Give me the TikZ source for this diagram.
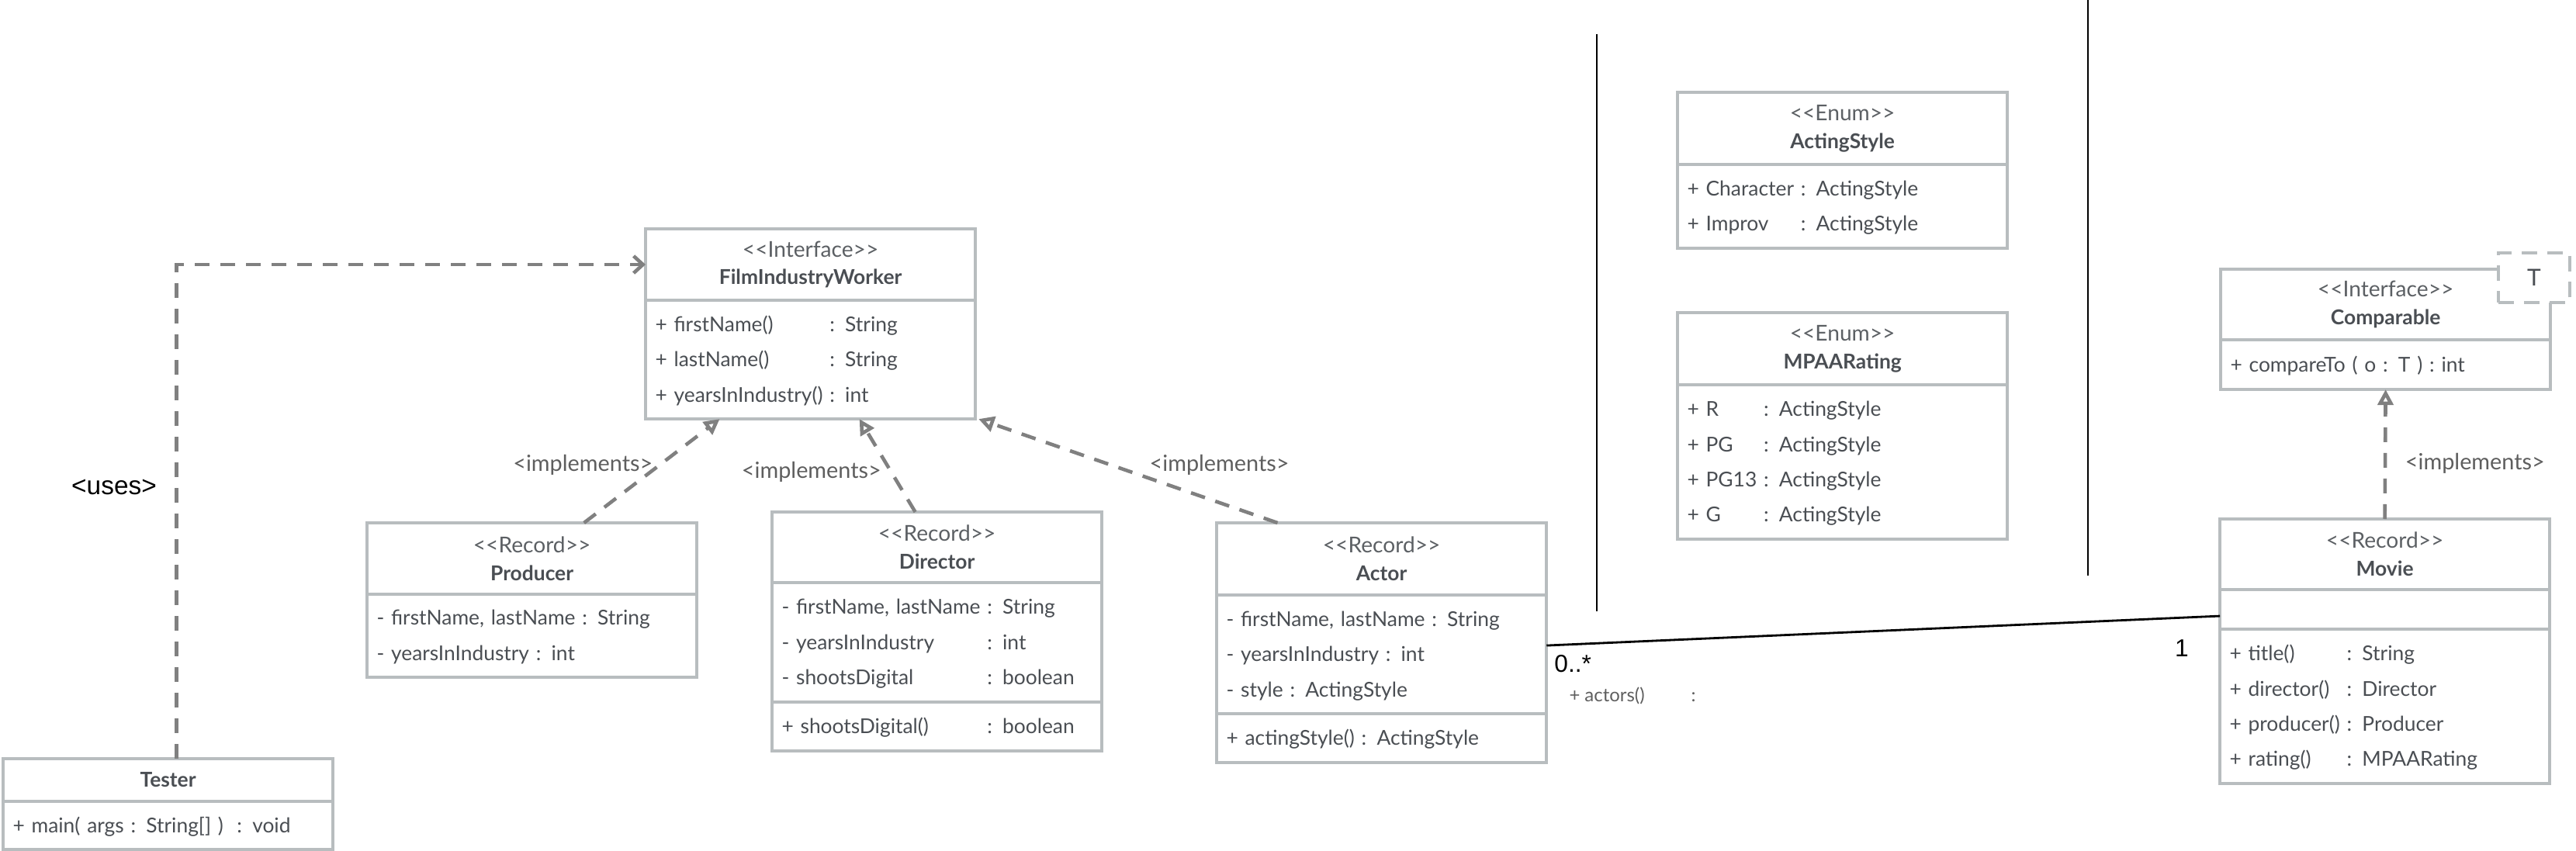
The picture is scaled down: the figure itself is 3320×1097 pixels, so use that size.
\documentclass[tikz,border=0pt]{standalone}
\usepackage{fontspec}
\newfontfamily\umlfont{Lato}
\newfontfamily\arialfont{Liberation Sans}
\usetikzlibrary{arrows.meta,positioning}
\definecolor{boxgray}{HTML}{B8BDBF}
\definecolor{textgray}{HTML}{4A4E53}
\definecolor{linkgray}{HTML}{808080}
\definecolor{notegray}{HTML}{5E5E5E}
\newcommand{\stereo}[1]{{\fontsize{8}{10.2}\selectfont\color{textgray!90}<<#1>>}\\}
\newcommand{\headfont}{\umlfont\fontsize{7.5}{10.2}\selectfont}
\newcommand{\rowfont}{\umlfont\fontsize{7.5}{12.9}\selectfont}
\tikzset{
  part/.style={draw=boxgray, line width=1.1pt, fill=white, outer sep=0pt,
    text width=4.0cm, inner xsep=0.125cm, inner ysep=0pt, text=textgray},
  headpart/.style={part, align=center, font=\headfont},
  rowpart/.style={part, align=left, font=\rowfont},
  realizes/.style={draw=linkgray, line width=1.3pt, dash pattern=on 0.19cm off 0.14cm,
    -{Triangle[open, length=0.2cm, width=0.2cm]}},
  uses/.style={draw=linkgray, line width=1.3pt, dash pattern=on 0.19cm off 0.14cm,
    -{Straight Barb[length=0.12cm, width=0.22cm]}},
  implabel/.style={font=\umlfont\fontsize{8.2}{9}\selectfont, text=notegray, inner sep=1pt},
  mult/.style={font=\arialfont\fontsize{9}{10}\selectfont, inner sep=1pt},
  rule/.style={draw=black, line width=0.8pt},
}
\begin{document}
\begin{tikzpicture}[x=0.01cm, y=-0.01cm]
\useasboundingbox (0,0) rectangle (3320,1097);
% separators
\draw[rule] (2058,44) -- (2058,788);
\draw[rule] (2691,0) -- (2691,742);

% Tester
\node[headpart, anchor=north west, minimum height=0.55cm] (testerHead) at (4,978) {\textbf{Tester}};
\node[rowpart, below=0pt of testerHead, minimum height=0.62cm] (testerBody) {\strut + main( args : String[] )\ \ : void};

% FilmIndustryWorker
\node[headpart, anchor=north west, minimum height=0.92cm] (fiwHead) at (832,295) {\stereo{Interface}\textbf{FilmIndustryWorker}};
\node[rowpart, below=0pt of fiwHead, minimum height=1.53cm] (fiwBody) {%
  \begin{tabular}{@{}l@{\ }l@{}}
  + firstName() & : String\\
  + lastName() & : String\\
  + yearsInIndustry() & : int
  \end{tabular}};

% Producer
\node[headpart, anchor=north west, minimum height=0.92cm] (producerHead) at (473,674) {\stereo{Record}\textbf{Producer}};
\node[rowpart, below=0pt of producerHead, minimum height=1.07cm] (producerBody) {%
  \begin{tabular}{@{}l@{}}
  - firstName, lastName : String\\
  - yearsInIndustry : int
  \end{tabular}};

% Director
\node[headpart, anchor=north west, minimum height=0.91cm] (directorHead) at (995,660) {\stereo{Record}\textbf{Director}};
\node[rowpart, below=0pt of directorHead, minimum height=1.54cm] (directorAttr) {%
  \begin{tabular}{@{}l@{\ }l@{}}
  - firstName, lastName & : String\\
  - yearsInIndustry & : int\\
  - shootsDigital & : boolean
  \end{tabular}};
\node[rowpart, below=0pt of directorAttr, minimum height=0.63cm] (directorOps) {%
  \begin{tabular}{@{}l@{\ }l@{}}
  \rlap{+ shootsDigital()}\hphantom{- firstName, lastName} & : boolean
  \end{tabular}};

% Actor
\node[headpart, anchor=north west, minimum height=0.93cm] (actorHead) at (1568,674) {\stereo{Record}\textbf{Actor}};
\node[rowpart, below=0pt of actorHead, minimum height=1.53cm] (actorAttr) {%
  \begin{tabular}{@{}l@{}}
  - firstName, lastName : String\\
  - yearsInIndustry : int\\
  - style : ActingStyle
  \end{tabular}};
\node[rowpart, below=0pt of actorAttr, minimum height=0.63cm] (actorOps) {%
  \begin{tabular}{@{}l@{}}
  + actingStyle() : ActingStyle
  \end{tabular}};

% enums
\node[headpart, anchor=north west, minimum height=0.93cm] (styleHead) at (2162,119) {\stereo{Enum}\textbf{ActingStyle}};
\node[rowpart, below=0pt of styleHead, minimum height=1.08cm] (styleBody) {%
  \begin{tabular}{@{}l@{\ }l@{}}
  + Character & : ActingStyle\\
  + Improv & : ActingStyle
  \end{tabular}};
\node[headpart, anchor=north west, minimum height=0.93cm] (ratingHead) at (2162,403) {\stereo{Enum}\textbf{MPAARating}};
\node[rowpart, below=0pt of ratingHead, minimum height=1.99cm] (ratingBody) {%
  \begin{tabular}{@{}l@{\ }l@{}}
  + R & : ActingStyle\\
  + PG & : ActingStyle\\
  + PG13 & : ActingStyle\\
  + G & : ActingStyle
  \end{tabular}};

% Comparable
\node[headpart, anchor=north west, minimum height=0.91cm] (compHead) at (2862,347) {\stereo{Interface}\textbf{Comparable}};
\node[rowpart, below=0pt of compHead, minimum height=0.64cm] (compBody) {%
  \begin{tabular}{@{}l@{}}
  + compareTo ( o : T ) : int
  \end{tabular}};
\node[draw=boxgray, line width=1.1pt, dash pattern=on 0.2cm off 0.13cm, fill=white,
  minimum width=0.92cm, minimum height=0.64cm, text=textgray,
  font=\umlfont\fontsize{8.5}{10}\selectfont] (tParam) at (3266,358) {T};

% Movie
\node[headpart, anchor=north west, minimum height=0.91cm] (movieHead) at (2861,669) {\stereo{Record}\textbf{Movie}};
\node[rowpart, below=0pt of movieHead, minimum height=0.51cm] (movieEmpty) {};
\node[rowpart, below=0pt of movieEmpty, minimum height=1.99cm] (movieBody) {%
  \begin{tabular}{@{}l@{\ }l@{}}
  + title() & : String\\
  + director() & : Director\\
  + producer() & : Producer\\
  + rating() & : MPAARating
  \end{tabular}};

% connectors
\draw[uses] ([xshift=0.11cm]testerHead.north) |- (fiwHead.west)
  node[pos=0.275, left=0.2cm, mult, font=\arialfont\fontsize{9.5}{11}\selectfont] (usesLabel) {<uses>};
\draw[realizes] ([xshift=0.67cm]producerHead.north) -- ([xshift=-1.17cm]fiwBody.south)
  node[implabel, pos=0.56, left=1pt] (prodImpl) {<implements>};
\draw[realizes] ([xshift=-0.28cm]directorHead.north) -- ([xshift=0.63cm]fiwBody.south)
  node[implabel, pos=0.43, left=2pt] (dirImpl) {<implements>};
\draw[realizes] ([xshift=-1.34cm]actorHead.north) -- ([xshift=0.04cm]fiwBody.south east)
  node[implabel, pos=0.56, right=0.45cm] (actImpl) {<implements>};
\draw[realizes] (movieHead.north) -- (compBody.south)
  node[implabel, pos=0.43, right=0.2cm] (movieImpl) {<implements>};

% association
\coordinate (assocA) at ([yshift=0.115cm]actorAttr.east);
\coordinate (assocB) at ([yshift=-0.085cm]movieEmpty.west);
\draw[rule] (assocA) -- (assocB);
\node[mult, anchor=north west] (manyEnd) at ([xshift=0.06cm,yshift=-0.08cm]assocA) {0..*};
\node[mult, anchor=north east] (oneEnd) at ([xshift=-0.36cm,yshift=-0.26cm]assocB) {1};
\node[anchor=west, inner sep=1pt, text=notegray, font=\umlfont\fontsize{6.8}{8}\selectfont]
  (roleName) at ([xshift=0.25cm,yshift=-0.65cm]assocA) {+ actors()\hspace{0.6cm}:};
\end{tikzpicture}
\end{document}
